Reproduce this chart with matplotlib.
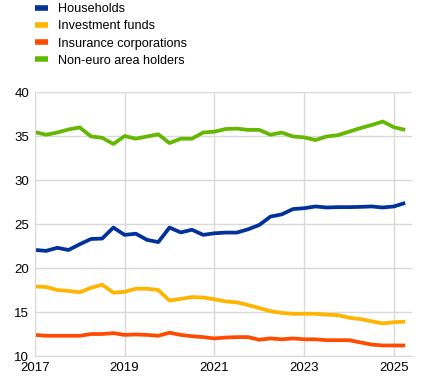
import numpy as np
import matplotlib.pyplot as plt

# quarterly observations, 2017 Q1 - 2025 Q2
quarters = 2017 + np.arange(34) / 4

households = [22.06, 21.95, 22.3, 22.05, 22.7, 23.3, 23.35, 24.6, 23.77, 23.9, 23.2, 22.95,
              24.6, 24.05, 24.35, 23.77, 23.95, 24.03, 24.03, 24.4, 24.9, 25.85, 26.1, 26.7,
              26.8, 27.0, 26.88, 26.92, 26.92, 26.95, 27.0, 26.88, 27.0, 27.4]
inv_funds = [17.9, 17.85, 17.5, 17.4, 17.25, 17.75, 18.1, 17.2, 17.3, 17.65, 17.65, 17.5,
             16.3, 16.5, 16.7, 16.65, 16.45, 16.2, 16.1, 15.8, 15.45, 15.1, 14.9, 14.8,
             14.8, 14.8, 14.7, 14.65, 14.35, 14.2, 13.95, 13.7, 13.85, 13.9]
insurance = [12.4, 12.3, 12.3, 12.3, 12.3, 12.5, 12.5, 12.6, 12.4, 12.45, 12.4, 12.3,
             12.65, 12.4, 12.25, 12.15, 12.0, 12.1, 12.15, 12.15, 11.85, 12.0, 11.9, 12.0,
             11.9, 11.9, 11.8, 11.8, 11.8, 11.55, 11.3, 11.2, 11.2, 11.2]
non_euro = [35.45, 35.15, 35.4, 35.75, 35.98, 34.96, 34.8, 34.1, 35.0, 34.7, 34.95, 35.2,
            34.2, 34.7, 34.7, 35.4, 35.5, 35.8, 35.85, 35.7, 35.7, 35.15, 35.4, 34.95,
            34.85, 34.55, 34.95, 35.1, 35.5, 35.9, 36.25, 36.65, 36.0, 35.7]

labels = ['Households', 'Investment funds', 'Insurance corporations', 'Non-euro area holders']
colors = ['#003299', '#FFB400', '#FF4B00', '#65B800']
series = [households, inv_funds, insurance, non_euro]

plt.rcParams['font.family'] = 'Liberation Sans'
fig = plt.figure(figsize=(4.3, 3.82), dpi=100)
ax = fig.add_axes([0.081, 0.068, 0.877, 0.691])

for s, c, l in zip(series, colors, labels):
    ax.plot(quarters, s, color=c, lw=2.7, label=l, solid_capstyle='butt')

ax.set_xlim(2017, 2025.4)
ax.set_ylim(10, 40)
ax.set_yticks(np.arange(10, 41, 5))
ax.set_xticks([2017, 2019, 2021, 2023, 2025])
ax.grid(True, color='#d9d9d9', lw=1)
ax.set_axisbelow(True)
for sp in ['top', 'right']:
    ax.spines[sp].set_visible(False)
for sp in ['left', 'bottom']:
    ax.spines[sp].set_color('#d9d9d9')
ax.tick_params(length=0, labelsize=9.5, pad=4)

leg = fig.legend(loc='upper left', bbox_to_anchor=(0.055, 1.022), frameon=False,
                 fontsize=9.1, handlelength=1.05, handletextpad=0.8, labelspacing=0.42)
for h in leg.get_lines():
    h.set_linewidth(4)

fig.savefig('out.png', dpi=100)
